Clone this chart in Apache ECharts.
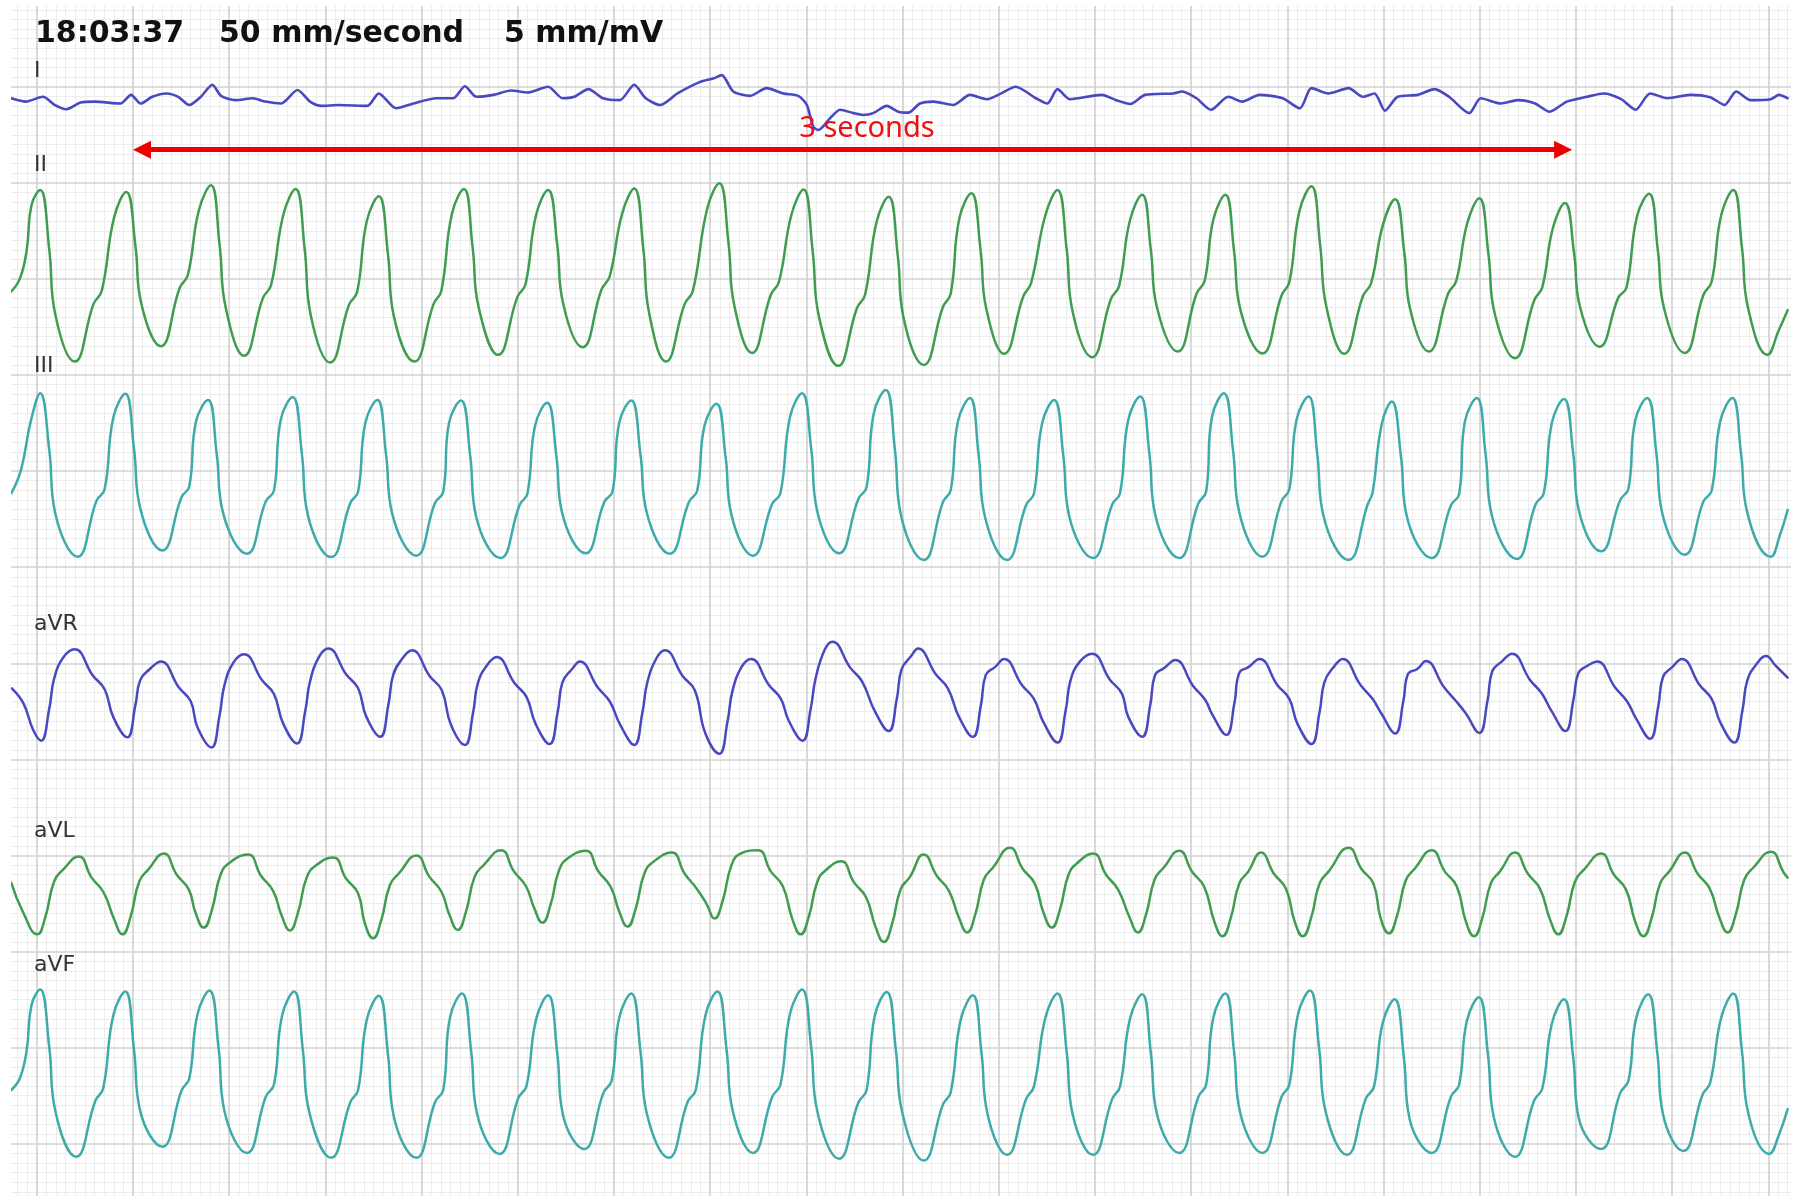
<!DOCTYPE html>
<html><head><meta charset="utf-8">
<script src="https://cdn.jsdelivr.net/npm/echarts@6/dist/echarts.min.js"></script>
<style>html,body{margin:0;padding:0;background:#fff}#chart{width:1798px;height:1196px}</style>
</head><body><div id="chart"></div>
<script>
// ---- DATA: time in ms, amplitude in mV (relative to each lead's reference line) ----
const leadNames = ['I', 'II', 'III', 'aVR', 'aVL', 'aVF'];
const headerTexts = ['18:03:37', '50 mm/second', '5 mm/mV'];
const arrowLabel = '3 seconds';
const arrowSpanMs = [200, 3192];
const arrowLevelMv = -1.31; // in lead I coordinates

const leadI = [
[-53,-0.24],[-23,-0.31],[13,-0.21],[37,-0.38],[61,-0.47],[91,-0.33],[120,-0.31],[174,-0.35],[196,-0.17],[216,-0.35],[240,-0.21],[270,-0.14],[294,-0.21],[317,-0.38],[341,-0.21],[365,0.04],[383,-0.19],[413,-0.28],[449,-0.24],[475,-0.31],[508,-0.35],[542,-0.07],[568,-0.31],[592,-0.40],[628,-0.38],[687,-0.40],[711,-0.14],[747,-0.45],[783,-0.35],[831,-0.24],[866,-0.24],[890,0.01],[914,-0.21],[950,-0.17],[986,-0.08],[1021,-0.12],[1063,0.00],[1093,-0.24],[1117,-0.21],[1147,-0.05],[1177,-0.24],[1212,-0.28],[1242,0.04],[1266,-0.24],[1296,-0.38],[1332,-0.14],[1379,0.10],[1406,0.17],[1424,0.24],[1448,-0.10],[1483,-0.19],[1517,-0.03],[1552,-0.14],[1583,-0.19],[1601,-0.38],[1614,-0.83],[1625,-0.90],[1649,-0.66],[1670,-0.48],[1698,-0.55],[1718,-0.59],[1739,-0.55],[1767,-0.40],[1791,-0.52],[1812,-0.54],[1836,-0.35],[1864,-0.31],[1905,-0.38],[1940,-0.17],[1975,-0.26],[2005,-0.14],[2035,0.00],[2077,-0.24],[2101,-0.35],[2122,-0.05],[2148,-0.26],[2214,-0.17],[2244,-0.28],[2274,-0.36],[2304,-0.17],[2363,-0.14],[2381,-0.10],[2411,-0.24],[2441,-0.48],[2477,-0.21],[2506,-0.31],[2542,-0.17],[2590,-0.24],[2626,-0.45],[2650,-0.03],[2685,-0.14],[2727,-0.03],[2757,-0.21],[2781,-0.14],[2803,-0.50],[2829,-0.21],[2871,-0.17],[2906,-0.05],[2936,-0.21],[2978,-0.55],[3002,-0.24],[3044,-0.35],[3079,-0.28],[3115,-0.35],[3145,-0.52],[3181,-0.31],[3223,-0.21],[3258,-0.14],[3294,-0.26],[3324,-0.48],[3354,-0.14],[3390,-0.24],[3437,-0.17],[3479,-0.22],[3509,-0.38],[3533,-0.10],[3563,-0.28],[3605,-0.26],[3622,-0.17],[3640,-0.24]
];

const leadII = [
[-54,-0.27],[-35,0.01],[-21,0.60],[-11,1.54],
[7,1.85],[26,0.60],[38,-0.72],[79,-1.72],[118,-0.52],[135,-0.25],[161,1.29],
[186,1.81],[205,0.69],[217,-0.50],[258,-1.40],[297,-0.19],[314,0.08],[337,1.43],
[362,1.95],[380,0.71],[393,-0.61],[431,-1.60],[470,-0.40],[487,-0.13],[513,1.35],
[538,1.87],[557,0.61],[569,-0.73],[610,-1.74],[649,-0.54],[666,-0.27],[686,1.20],
[711,1.72],[730,0.52],[742,-0.76],[785,-1.72],[825,-0.52],[841,-0.25],[863,1.35],
[888,1.87],[906,0.66],[919,-0.61],[959,-1.58],[999,-0.38],[1016,-0.11],[1038,1.33],
[1063,1.85],[1082,0.71],[1094,-0.50],[1135,-1.42],[1174,-0.22],[1191,0.05],[1217,1.36],
[1242,1.88],[1261,0.62],[1273,-0.71],[1308,-1.72],[1347,-0.52],[1364,-0.25],[1394,1.47],
[1419,1.99],[1438,0.75],[1450,-0.55],[1487,-1.54],[1526,-0.33],[1543,-0.06],[1569,1.34],
[1594,1.86],[1613,0.58],[1626,-0.78],[1666,-1.81],[1705,-0.61],[1722,-0.33],[1746,1.19],
[1771,1.71],[1790,0.48],[1802,-0.81],[1844,-1.79],[1884,-0.58],[1900,-0.31],[1918,1.26],
[1943,1.78],[1962,0.61],[1974,-0.62],[2011,-1.56],[2051,-0.36],[2067,-0.09],[2097,1.33],
[2122,1.85],[2141,0.63],[2153,-0.66],[2194,-1.63],[2233,-0.42],[2250,-0.15],[2273,1.23],
[2298,1.75],[2316,0.61],[2329,-0.60],[2372,-1.51],[2411,-0.31],[2428,-0.04],[2446,1.23],
[2471,1.75],[2489,0.59],[2502,-0.63],[2548,-1.55],[2588,-0.34],[2604,-0.07],[2625,1.41],
[2650,1.93],[2668,0.71],[2681,-0.58],[2718,-1.56],[2757,-0.36],[2774,-0.09],[2799,1.14],
[2824,1.66],[2843,0.55],[2855,-0.62],[2894,-1.51],[2934,-0.31],[2951,-0.04],[2974,1.16],
[2999,1.68],[3018,0.51],[3031,-0.72],[3073,-1.65],[3113,-0.45],[3130,-0.17],[3152,1.06],
[3177,1.58],[3196,0.53],[3208,-0.57],[3249,-1.41],[3288,-0.39],[3305,-0.18],[3327,1.31],
[3352,1.77],[3370,0.61],[3383,-0.61],[3426,-1.54],[3465,-0.33],[3482,-0.06],[3502,1.33],
[3527,1.85],[3545,0.65],[3558,-0.62],[3598,-1.58],[3622,-1.06],[3640,-0.65]
];

const leadIII = [
[-53,-0.46],[-33,0.02],[-12,1.06],
[7,1.62],[26,0.43],[38,-0.86],[85,-1.78],[124,-0.62],[141,-0.38],[159,1.11],
[184,1.61],[202,0.47],[215,-0.77],[261,-1.65],[301,-0.54],[317,-0.32],[331,1.03],
[356,1.48],[374,0.36],[387,-0.86],[437,-1.72],[476,-0.63],[493,-0.41],[507,1.06],
[532,1.54],[551,0.37],[563,-0.89],[612,-1.79],[652,-0.66],[668,-0.43],[683,1.00],
[708,1.48],[726,0.35],[739,-0.89],[789,-1.76],[828,-0.66],[845,-0.43],[857,1.00],
[882,1.47],[901,0.32],[913,-0.93],[964,-1.81],[1004,-0.70],[1020,-0.47],[1036,0.95],
[1061,1.42],[1080,0.33],[1092,-0.86],[1141,-1.71],[1180,-0.64],[1197,-0.42],[1211,1.01],
[1236,1.47],[1255,0.35],[1268,-0.86],[1316,-1.72],[1356,-0.64],[1373,-0.41],[1388,0.94],
[1413,1.40],[1432,0.29],[1444,-0.90],[1489,-1.76],[1529,-0.68],[1546,-0.46],[1566,1.13],
[1591,1.62],[1610,0.46],[1622,-0.81],[1668,-1.71],[1708,-0.58],[1725,-0.34],[1740,1.20],
[1765,1.69],[1784,0.45],[1796,-0.89],[1844,-1.85],[1884,-0.64],[1900,-0.40],[1915,1.03],
[1940,1.52],[1958,0.34],[1971,-0.94],[2017,-1.85],[2057,-0.70],[2073,-0.47],[2090,0.99],
[2115,1.48],[2134,0.33],[2146,-0.92],[2196,-1.81],[2236,-0.69],[2252,-0.46],[2269,1.06],
[2294,1.55],[2313,0.37],[2325,-0.90],[2375,-1.81],[2415,-0.67],[2431,-0.43],[2443,1.12],
[2468,1.62],[2487,0.43],[2500,-0.86],[2548,-1.78],[2588,-0.62],[2604,-0.38],[2619,1.07],
[2644,1.55],[2662,0.36],[2675,-0.93],[2727,-1.85],[2767,-0.69],[2777,-0.45],[2796,0.97],
[2817,1.45],[2836,0.31],[2848,-0.93],[2900,-1.81],[2940,-0.71],[2957,-0.48],[2969,1.03],
[2994,1.52],[3012,0.35],[3025,-0.92],[3077,-1.83],[3116,-0.69],[3133,-0.46],[3150,1.01],
[3175,1.50],[3194,0.39],[3206,-0.82],[3252,-1.67],[3292,-0.60],[3309,-0.37],[3323,1.05],
[3348,1.52],[3367,0.38],[3379,-0.86],[3426,-1.74],[3465,-0.63],[3482,-0.41],[3500,1.04],
[3525,1.52],[3543,0.38],[3556,-0.86],[3605,-1.78],[3624,-1.33],[3640,-0.81]
];

const leadAVR = [
[-52,-0.52],[-28,-0.83],[-7,-1.40],
[9,-1.61],[26,-0.94],[36,-0.32],[55,0.12],[79,0.29],[116,-0.25],[141,-0.54],[159,-1.12],
[188,-1.54],[205,-0.87],[215,-0.35],[234,-0.13],[258,0.04],[295,-0.50],[320,-0.79],[334,-1.33],
[363,-1.75],[380,-1.08],[390,-0.46],[409,0.02],[431,0.19],[468,-0.35],[493,-0.64],[512,-1.25],
[541,-1.67],[558,-1.00],[568,-0.38],[587,0.14],[606,0.31],[643,-0.23],[668,-0.52],[685,-1.11],
[714,-1.53],[731,-0.86],[741,-0.24],[760,0.10],[780,0.27],[817,-0.27],[842,-0.56],[861,-1.28],
[890,-1.70],[907,-1.03],[917,-0.41],[936,-0.04],[956,0.13],[993,-0.41],[1018,-0.70],[1037,-1.26],
[1066,-1.68],[1083,-1.01],[1093,-0.39],[1112,-0.13],[1129,0.04],[1166,-0.50],[1191,-0.79],[1213,-1.28],
[1242,-1.70],[1259,-1.03],[1269,-0.41],[1288,0.10],[1306,0.27],[1343,-0.27],[1368,-0.56],[1390,-1.46],
[1419,-1.88],[1436,-1.21],[1446,-0.59],[1465,-0.08],[1485,0.09],[1522,-0.45],[1547,-0.74],[1563,-1.19],
[1592,-1.61],[1609,-0.94],[1619,-0.32],[1638,0.28],[1654,0.45],[1691,-0.09],[1716,-0.38],[1742,-0.99],
[1771,-1.41],[1788,-0.74],[1798,-0.12],[1817,0.14],[1832,0.31],[1869,-0.23],[1894,-0.52],[1917,-1.11],
[1946,-1.53],[1963,-0.86],[1973,-0.24],[1992,-0.08],[2011,0.09],[2048,-0.45],[2073,-0.74],[2093,-1.23],
[2122,-1.65],[2139,-0.98],[2149,-0.36],[2168,0.03],[2194,0.20],[2231,-0.34],[2256,-0.63],[2269,-1.11],
[2298,-1.53],[2315,-0.86],[2325,-0.24],[2344,-0.10],[2367,0.07],[2404,-0.47],[2429,-0.76],[2444,-1.07],
[2473,-1.49],[2490,-0.82],[2500,-0.20],[2519,-0.08],[2542,0.09],[2579,-0.45],[2604,-0.74],[2621,-1.26],
[2650,-1.68],[2667,-1.01],[2677,-0.39],[2696,-0.08],[2715,0.09],[2752,-0.45],[2777,-0.74],[2795,-1.04],
[2824,-1.46],[2841,-0.79],[2851,-0.22],[2870,-0.12],[2888,0.05],[2925,-0.49],[2950,-0.78],[2970,-1.03],
[2999,-1.45],[3016,-0.78],[3026,-0.16],[3045,0.03],[3067,0.20],[3104,-0.34],[3129,-0.63],[3149,-0.99],
[3178,-1.41],[3195,-0.74],[3205,-0.20],[3224,-0.05],[3244,0.04],[3281,-0.50],[3306,-0.79],[3325,-1.15],
[3354,-1.57],[3371,-0.90],[3381,-0.28],[3400,-0.08],[3420,0.09],[3457,-0.45],[3482,-0.74],[3500,-1.23],
[3529,-1.65],[3546,-0.98],[3556,-0.36],[3575,-0.02],[3595,0.15],[3615,-0.05],[3640,-0.30]
];

const leadAVL = [
[-53,-0.57],[-29,-1.17],
[1,-1.64],[18,-1.27],[36,-0.54],[55,-0.29],[87,-0.02],[114,-0.46],[139,-0.77],[161,-1.33],
[178,-1.64],[195,-1.27],[213,-0.54],[232,-0.29],[264,0.04],[291,-0.40],[316,-0.71],[330,-1.19],
[347,-1.50],[364,-1.13],[382,-0.40],[401,-0.15],[439,0.02],[466,-0.42],[491,-0.73],[509,-1.25],
[526,-1.56],[543,-1.19],[561,-0.46],[580,-0.21],[616,-0.04],[643,-0.48],[668,-0.79],[682,-1.41],
[699,-1.72],[716,-1.35],[734,-0.62],[753,-0.37],[789,0.00],[816,-0.44],[841,-0.75],[858,-1.24],
[875,-1.55],[892,-1.18],[910,-0.45],[929,-0.20],[965,0.11],[992,-0.33],[1017,-0.64],[1034,-1.09],
[1051,-1.40],[1068,-1.03],[1086,-0.30],[1105,-0.05],[1141,0.10],[1168,-0.34],[1193,-0.65],[1211,-1.17],
[1228,-1.48],[1245,-1.11],[1263,-0.38],[1282,-0.13],[1320,0.06],[1347,-0.38],[1372,-0.69],[1392,-1.00],
[1409,-1.31],[1426,-0.94],[1444,-0.21],[1463,0.04],[1499,0.11],[1526,-0.33],[1551,-0.64],[1571,-1.33],
[1588,-1.64],[1605,-1.27],[1623,-0.54],[1642,-0.29],[1672,-0.12],[1699,-0.56],[1724,-0.87],[1744,-1.49],
[1761,-1.80],[1778,-1.43],[1796,-0.70],[1815,-0.45],[1844,0.02],[1871,-0.42],[1896,-0.73],[1917,-1.29],
[1934,-1.60],[1951,-1.23],[1969,-0.50],[1988,-0.25],[2023,0.16],[2050,-0.28],[2075,-0.59],[2093,-1.19],
[2110,-1.50],[2127,-1.13],[2145,-0.40],[2164,-0.15],[2196,0.04],[2223,-0.40],[2248,-0.71],[2272,-1.29],
[2289,-1.60],[2306,-1.23],[2324,-0.50],[2343,-0.25],[2375,0.10],[2402,-0.34],[2427,-0.65],[2448,-1.37],
[2465,-1.68],[2482,-1.31],[2500,-0.58],[2519,-0.33],[2545,0.06],[2572,-0.38],[2597,-0.69],[2615,-1.37],
[2632,-1.68],[2649,-1.31],[2667,-0.58],[2686,-0.33],[2727,0.16],[2754,-0.28],[2779,-0.59],[2794,-1.31],
[2811,-1.62],[2828,-1.25],[2846,-0.52],[2865,-0.27],[2900,0.11],[2927,-0.33],[2952,-0.64],[2971,-1.37],
[2988,-1.68],[3005,-1.31],[3023,-0.58],[3042,-0.33],[3073,0.06],[3100,-0.38],[3125,-0.69],[3146,-1.33],
[3163,-1.64],[3180,-1.27],[3198,-0.54],[3217,-0.29],[3252,0.04],[3279,-0.40],[3304,-0.71],[3323,-1.37],
[3340,-1.68],[3357,-1.31],[3375,-0.58],[3394,-0.33],[3426,0.06],[3453,-0.38],[3478,-0.69],[3498,-1.29],
[3515,-1.60],[3532,-1.23],[3550,-0.50],[3569,-0.25],[3605,0.08],[3632,-0.36],[3640,-0.46]
];

const leadAVF = [
[-53,-0.88],[-35,-0.63],[-21,-0.05],[-11,0.89],
[7,1.21],[26,0.00],[38,-1.29],[82,-2.27],[122,-1.10],[138,-0.85],[159,0.67],
[184,1.17],[202,-0.04],[215,-1.32],[261,-2.06],[301,-0.89],[317,-0.64],[334,0.69],
[359,1.19],[378,-0.02],[390,-1.31],[437,-2.19],[476,-1.02],[493,-0.77],[510,0.67],
[535,1.17],[553,-0.04],[566,-1.32],[612,-2.29],[652,-1.13],[668,-0.88],[686,0.58],
[711,1.08],[730,-0.13],[742,-1.42],[789,-2.29],[828,-1.13],[845,-0.88],[859,0.63],
[884,1.13],[903,-0.07],[915,-1.36],[962,-2.21],[1001,-1.05],[1018,-0.80],[1038,0.59],
[1063,1.09],[1082,-0.11],[1094,-1.40],[1138,-2.11],[1178,-0.94],[1195,-0.69],[1211,0.63],
[1236,1.13],[1255,-0.07],[1268,-1.36],[1314,-2.29],[1353,-1.13],[1370,-0.88],[1390,0.67],
[1415,1.17],[1434,-0.04],[1447,-1.32],[1489,-2.19],[1529,-1.02],[1546,-0.77],[1566,0.71],
[1591,1.21],[1610,0.00],[1622,-1.29],[1668,-2.31],[1708,-1.14],[1725,-0.89],[1742,0.66],
[1767,1.16],[1786,-0.05],[1799,-1.34],[1844,-2.35],[1884,-1.18],[1900,-0.93],[1921,0.59],
[1946,1.09],[1964,-0.11],[1977,-1.40],[2017,-2.23],[2057,-1.06],[2073,-0.81],[2097,0.63],
[2122,1.13],[2141,-0.07],[2153,-1.36],[2196,-2.23],[2236,-1.06],[2252,-0.81],[2273,0.61],
[2298,1.11],[2316,-0.10],[2329,-1.39],[2375,-2.19],[2415,-1.02],[2431,-0.77],[2446,0.63],
[2471,1.13],[2489,-0.07],[2502,-1.36],[2548,-2.19],[2588,-1.02],[2604,-0.77],[2622,0.69],
[2647,1.19],[2666,-0.02],[2679,-1.31],[2724,-2.23],[2763,-1.06],[2780,-0.81],[2798,0.51],
[2823,1.01],[2842,-0.19],[2854,-1.48],[2900,-2.19],[2940,-1.02],[2957,-0.77],[2973,0.55],
[2998,1.05],[3017,-0.15],[3029,-1.44],[3073,-2.27],[3113,-1.10],[3130,-0.85],[3150,0.51],
[3175,1.01],[3194,-0.19],[3206,-1.48],[3252,-2.11],[3292,-0.94],[3309,-0.69],[3325,0.61],
[3350,1.11],[3369,-0.10],[3381,-1.39],[3423,-2.15],[3463,-0.98],[3479,-0.73],[3502,0.63],
[3527,1.13],[3545,-0.07],[3558,-1.36],[3602,-2.21],[3622,-1.81],[3640,-1.28]
];

const leadData = [leadI, leadII, leadIII, leadAVR, leadAVL, leadAVF];

// ---- LAYOUT / STYLE ----
const W = 1798, H = 1196;
const MAJOR_X = 96.2, MAJOR_Y = 96.1;
const X0 = 36.8;          // pixel of t = 0 ms
const LINE0_Y = 86.7;     // pixel of first horizontal major line
const T_MIN = -200, T_MAX = 3800, T_STEP = 200;
const gridLeft = X0 - MAJOR_X;
const gridWidth = (T_MAX - T_MIN) / T_STEP * MAJOR_X;
const leadRow = [0, 2, 4, 6, 8, 10];
const leadColors = ['#4848c0', '#3f9c50', '#3eaaaa', '#4848c0', '#3f9c50', '#3eaaaa'];
const leadWidths = [2.6, 2.5, 2.5, 2.5, 2.5, 2.5];
const leadSmooth = [0.25, 0.45, 0.45, 0.45, 0.5, 0.45];
const labelY = [71, 165, 366, 624, 831, 965];

const grids = [], xAxes = [], yAxes = [], series = [];
// background grids: 0 = minor lines, 1 = major lines
for (let g = 0; g < 2; g++) {
  grids.push({left: gridLeft, width: gridWidth, top: LINE0_Y - MAJOR_Y, height: 13 * MAJOR_Y,
              containLabel: false, outerBoundsMode: 'none'});
  const isMajor = g === 1;
  const common = {
    type: 'value', gridIndex: g, z: g,
    axisLine: {show: false}, axisTick: {show: false}, axisLabel: {show: false},
    splitLine: {show: isMajor, lineStyle: {color: '#d3d3d3', width: 1.7}},
    minorTick: {show: false, splitNumber: 10},
    minorSplitLine: {show: !isMajor, lineStyle: {color: '#ececec', width: 1}}
  };
  xAxes.push(Object.assign({min: T_MIN, max: T_MAX, interval: T_STEP}, common));
  yAxes.push(Object.assign({min: 0, max: 26, interval: 2}, common));
}
leadData.forEach((d, i) => {
  const y0 = LINE0_Y + leadRow[i] * MAJOR_Y;
  grids.push({left: gridLeft, width: gridWidth, top: y0 - 2 * MAJOR_Y, height: 4 * MAJOR_Y,
              containLabel: false, outerBoundsMode: 'none'});
  xAxes.push({type: 'value', gridIndex: i + 2, min: T_MIN, max: T_MAX, show: false});
  yAxes.push({type: 'value', gridIndex: i + 2, min: -4, max: 4, show: false});
  series.push({
    name: leadNames[i], type: 'line', xAxisIndex: i + 2, yAxisIndex: i + 2,
    data: d, showSymbol: false, symbol: 'none', smooth: leadSmooth[i], clip: false,
    silent: true, z: 3,
    lineStyle: {color: leadColors[i], width: leadWidths[i], join: 'round', cap: 'round'}
  });
});
// 3-second arrow (annotation in lead I coordinates)
const headMs = 9 / MAJOR_X * T_STEP;
series.push({
  type: 'line', xAxisIndex: 2, yAxisIndex: 2, data: [], silent: true, z: 5,
  markLine: {
    silent: true, animation: false, symbol: ['triangle', 'triangle'], symbolSize: [18, 18],
    label: {show: false},
    lineStyle: {color: '#ee0000', width: 5, type: 'solid', opacity: 1},
    itemStyle: {color: '#ee0000'},
    emphasis: {disabled: true},
    data: [[{coord: [arrowSpanMs[0] + headMs, arrowLevelMv]}, {coord: [arrowSpanMs[1] - headMs, arrowLevelMv]}]]
  }
});

const graphics = [
  {type: 'rect', shape: {x: 0, y: 0, width: 11, height: H}, style: {fill: '#fff'}, z: 100, silent: true},
  {type: 'rect', shape: {x: 1791, y: 0, width: 7, height: H}, style: {fill: '#fff'}, z: 100, silent: true},
  {type: 'rect', shape: {x: 0, y: 0, width: W, height: 6}, style: {fill: '#fff'}, z: 100, silent: true}
];
const headerX = [35, 219, 504];
headerTexts.forEach((t, i) => graphics.push({
  type: 'text', x: headerX[i], y: 34, z: 101, silent: true,
  style: {text: t, fill: '#111', font: 'bold 30px "DejaVu Sans"', textVerticalAlign: 'middle', verticalAlign: 'middle'}
}));
leadNames.forEach((n, i) => graphics.push({
  type: 'text', x: 34, y: labelY[i], z: 101, silent: true,
  style: {text: n, fill: '#333', font: '22px "DejaVu Sans"', textVerticalAlign: 'middle', verticalAlign: 'middle'}
}));
graphics.push({
  type: 'text', x: 867, y: 129, z: 101, silent: true,
  style: {text: arrowLabel, fill: '#ee1111', font: '29px "Noto Sans"', align: 'center', textAlign: 'center', textVerticalAlign: 'middle', verticalAlign: 'middle'}
});

const chart = echarts.init(document.getElementById('chart'), null, {renderer: 'canvas', width: W, height: H});
chart.setOption({
  animation: false,
  backgroundColor: '#ffffff',
  grid: grids, xAxis: xAxes, yAxis: yAxes, series: series, graphic: graphics
});
</script></body></html>
